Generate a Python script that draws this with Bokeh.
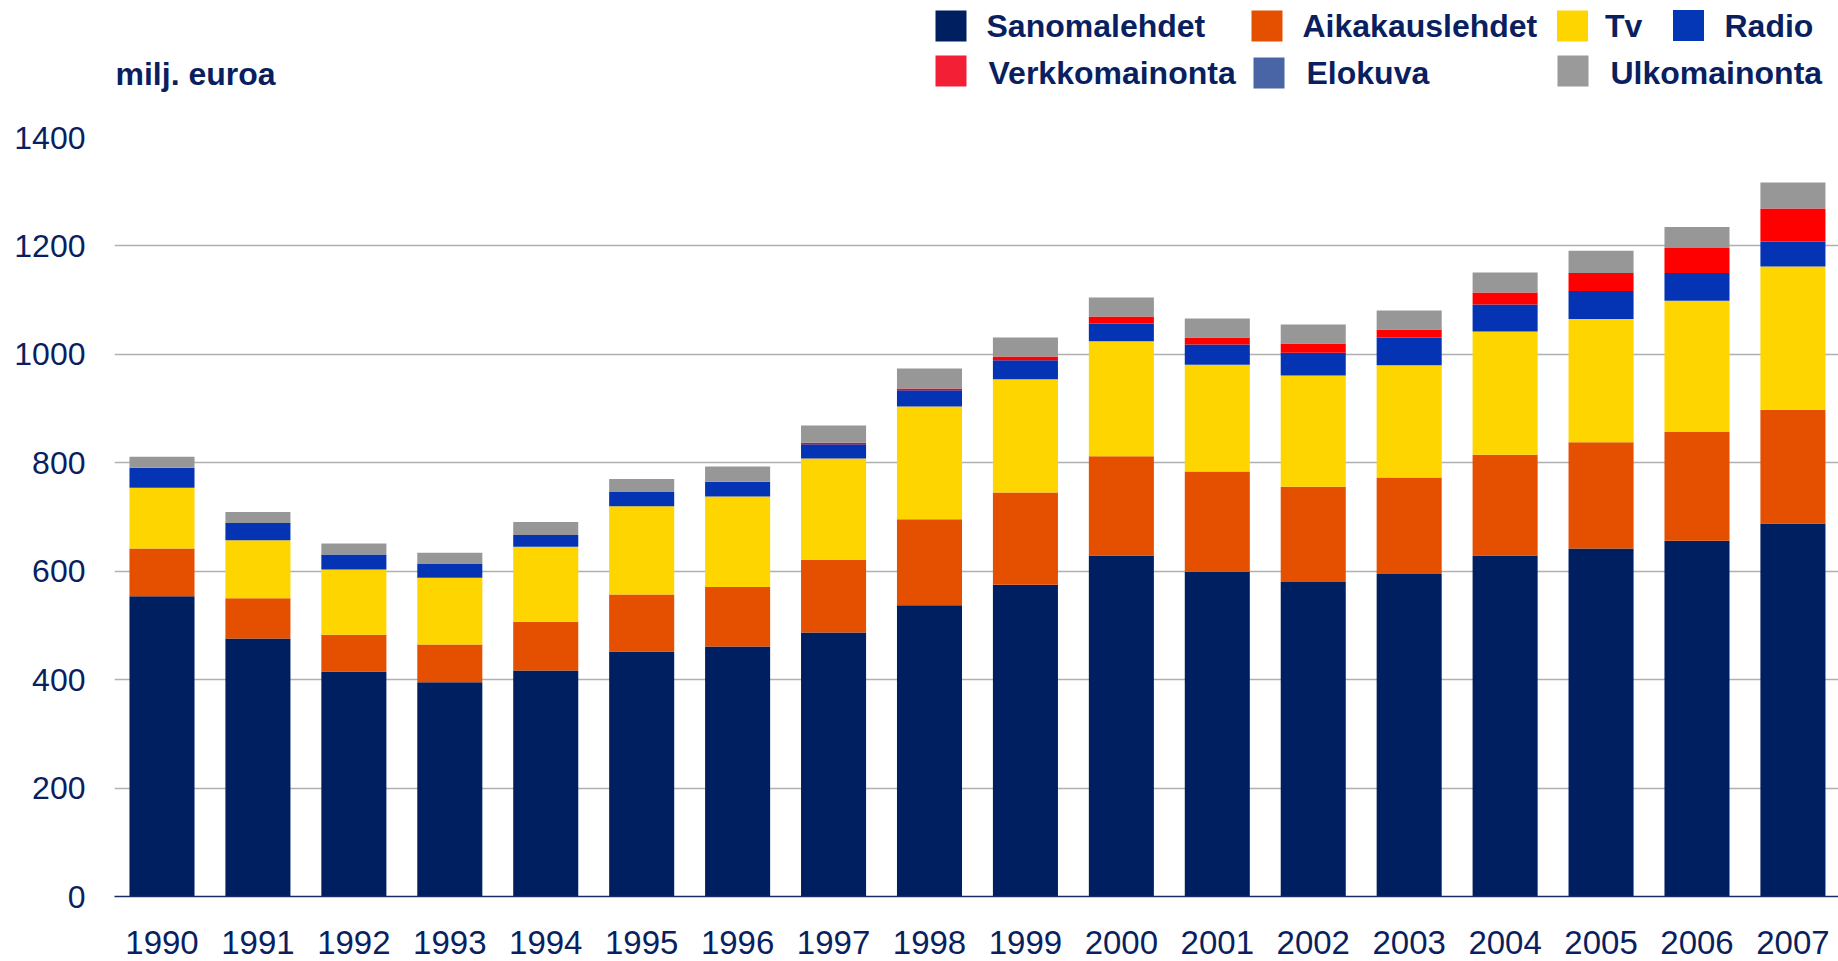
from bokeh.plotting import figure
from bokeh.models import ColumnDataSource, Range1d, FixedTicker
from bokeh.layouts import column
from bokeh.core.properties import value
from bokeh.embed import file_html
from bokeh.resources import INLINE

# ---------------- data ----------------
years = [1990, 1991, 1992, 1993, 1994, 1995, 1996, 1997, 1998,
         1999, 2000, 2001, 2002, 2003, 2004, 2005, 2006, 2007]
sanomalehdet = [554, 476, 415, 395, 417, 452, 461, 487, 537,
                575, 629, 599, 580, 595, 629, 642, 656, 688]
aikakauslehdet = [88, 74, 68, 70, 90, 105, 110, 134, 159,
                  170, 183, 185, 176, 178, 186, 196, 201, 210]
tv = [112, 107, 120, 123, 138, 163, 167, 187, 208,
      209, 212, 197, 205, 207, 227, 227, 242, 264]
radio = [37, 32, 28, 26, 22, 26, 27, 26, 30,
         35, 33, 37, 42, 51, 50, 52, 51, 46]
verkkomainonta = [0, 0, 0, 0, 0, 0, 0, 3, 3,
                  7, 13, 13, 17, 15, 22, 33, 46, 61]
elokuva = [0, 0, 0, 0, 0, 0, 0, 0, 0,
           0, 0, 0, 0, 0, 0, 0, 0, 0]
ulkomainonta = [20, 20, 20, 20, 24, 24, 28, 32, 37,
                35, 35, 35, 35, 35, 37, 41, 39, 48]

series_names = ["Sanomalehdet", "Aikakauslehdet", "Tv", "Radio",
                "Verkkomainonta", "Elokuva", "Ulkomainonta"]
y_ticks = [0, 200, 400, 600, 800, 1000, 1200, 1400]
unit_label = "milj. euroa"

# ---------------- styles ----------------
bar_colors = ["#001F60", "#E55000", "#FFD500", "#0433B4",
              "#FF0000", "#4A65A5", "#979797"]
swatch_colors = ["#001F60", "#E55000", "#FFD500", "#0437B5",
                 "#F21F35", "#4A65A5", "#9A9A9A"]
text_color = "#0A1F5F"
FONT = "Liberation Sans"

W = 1838
LEG_H = 100
MAIN_H = 861
LEFT = 114

src = ColumnDataSource(dict(
    year=years,
    Sanomalehdet=sanomalehdet,
    Aikakauslehdet=aikakauslehdet,
    Tv=tv,
    Radio=radio,
    Verkkomainonta=verkkomainonta,
    Elokuva=elokuva,
    Ulkomainonta=ulkomainonta,
))

# ---------------- main chart ----------------
p = figure(width=W, height=MAIN_H, output_backend="svg", toolbar_location=None,
           tools="", x_range=Range1d(1989.505, 2007.475), y_range=Range1d(0, 1400),
           min_border_left=LEFT, min_border_right=0, min_border_top=37,
           min_border_bottom=65)
p.outline_line_color = None
p.background_fill_color = "white"
p.border_fill_color = "white"

p.vbar_stack(series_names, x="year", width=0.678, source=src,
             fill_color=bar_colors, line_color=None)

p.xgrid.grid_line_color = None
p.ygrid.grid_line_color = "#B0B0B0"
p.ygrid.grid_line_width = 1.4

p.yaxis.ticker = FixedTicker(ticks=y_ticks)
p.yaxis.axis_line_color = None
p.yaxis.major_tick_line_color = None
p.yaxis.minor_tick_line_color = None
p.yaxis.major_label_standoff = 23
p.yaxis.major_label_text_font = FONT
p.yaxis.major_label_text_font_size = "32px"
p.yaxis.major_label_text_color = text_color

p.xaxis.ticker = FixedTicker(ticks=years)
p.xaxis.axis_line_color = "#1B2B63"
p.xaxis.axis_line_width = 1.6
p.xaxis.major_tick_line_color = None
p.xaxis.minor_tick_line_color = None
p.xaxis.major_label_standoff = 28
p.xaxis.major_label_text_font = FONT
p.xaxis.major_label_text_font_size = "33px"
p.xaxis.major_label_text_color = text_color

# ---------------- legend / header strip ----------------
leg = figure(width=W, height=LEG_H, output_backend="svg", toolbar_location=None,
             tools="", x_range=Range1d(LEFT, W), y_range=Range1d(LEG_H, 0),
             min_border=0, min_border_left=LEFT, min_border_right=0)
leg.outline_line_color = None
leg.axis.visible = False
leg.grid.visible = False

# legend layout (pixel positions in the strip)
sw_x = [950.5, 1266.5, 1572, 1688, 950.5, 1268.5, 1572.5]
sw_y = [25.5, 25.5, 25.5, 25.0, 70.5, 72.5, 70.5]
tx_x = [986, 1302, 1604.5, 1724, 988, 1306, 1610]
tx_y = [25.8, 25.8, 25.8, 25.8, 72.0, 72.0, 72.0]

leg.rect(x=sw_x, y=sw_y, width=31, height=31, fill_color=swatch_colors,
         line_color=None)
leg.text(x=tx_x, y=tx_y, text=series_names, text_font=value(FONT),
         text_font_style="bold", text_font_size="32px", text_color=text_color,
         text_baseline="middle", text_align="left")
leg.text(x=[115], y=[73], text=[unit_label], text_font=value(FONT),
         text_font_style="bold", text_font_size="32px", text_color=text_color,
         text_baseline="middle", text_align="left")

layout = column(leg, p, spacing=0)

open("out.html", "w").write(file_html(layout, INLINE))
